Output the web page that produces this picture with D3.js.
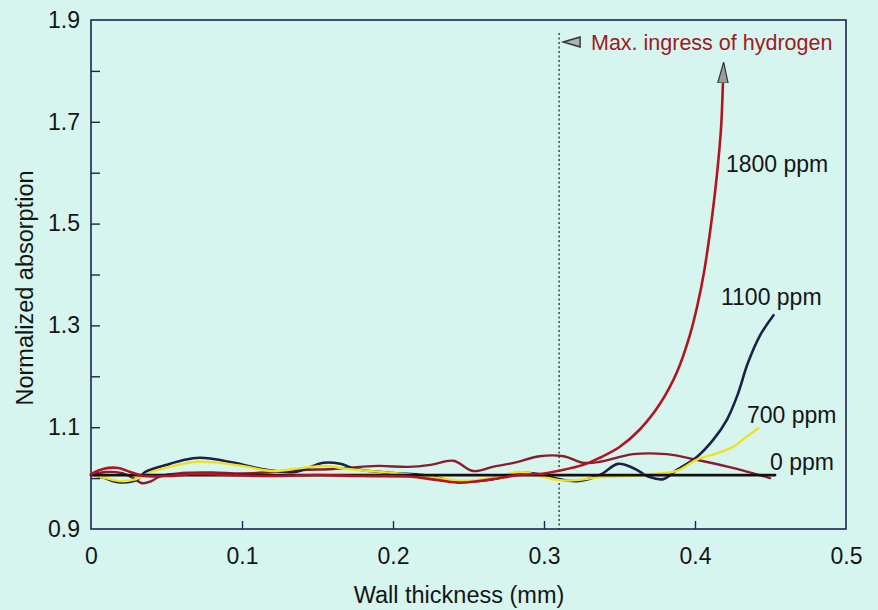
<!DOCTYPE html>
<html>
<head>
<meta charset="utf-8">
<script src="https://cdn.jsdelivr.net/npm/d3@7"></script>
<style>
  html, body { margin: 0; padding: 0; background: #d7f5ef; }
  svg { display: block; }
  text { font-family: "Liberation Sans", Arial, Helvetica, sans-serif; fill: #151515; }
</style>
</head>
<body>
<svg id="chart" width="878" height="610"></svg>
<script>
// ---- data (x: wall thickness in mm, y: normalized absorption) ----
const xTickValues = [0, 0.1, 0.2, 0.3, 0.4, 0.5];
const xTickLabels = ["0", "0.1", "0.2", "0.3", "0.4", "0.5"];
const yTickValues = [0.9, 1.0, 1.1, 1.2, 1.3, 1.4, 1.5, 1.6, 1.7, 1.8, 1.9];
const yTickLabels = ["0.9", "", "1.1", "", "1.3", "", "1.5", "", "1.7", "", "1.9"];

const baseline0 = [[0, 1.006], [0.453, 1.006]];

const series1800 = [
  [0, 1.008], [0.008, 1.018], [0.018, 1.020], [0.026, 1.012], [0.035, 1.004],
  [0.05, 1.004], [0.07, 1.008], [0.09, 1.006], [0.12, 1.004], [0.15, 1.006],
  [0.18, 1.004], [0.21, 1.003], [0.23, 0.996], [0.245, 0.991], [0.266, 0.998],
  [0.284, 1.006], [0.30, 1.009], [0.309, 1.014], [0.326, 1.026], [0.337, 1.040],
  [0.350, 1.061], [0.3636, 1.096], [0.3768, 1.146], [0.388, 1.208], [0.3967, 1.282],
  [0.402, 1.345], [0.4060, 1.405], [0.4099, 1.482], [0.4132, 1.560], [0.4155, 1.625],
  [0.4173, 1.690], [0.4185, 1.776]
];

const series1100 = [
  [0, 1.008], [0.009, 1.000], [0.018, 0.992], [0.03, 0.996], [0.036, 1.012],
  [0.05, 1.026], [0.062, 1.036], [0.072, 1.040], [0.08, 1.038], [0.095, 1.030],
  [0.117, 1.016], [0.135, 1.012], [0.154, 1.030], [0.165, 1.028], [0.175, 1.018],
  [0.2, 1.010], [0.22, 1.006], [0.244, 0.993], [0.266, 0.998], [0.284, 1.010],
  [0.30, 1.006], [0.31, 0.998], [0.322, 0.994], [0.337, 1.006], [0.349, 1.028],
  [0.359, 1.020], [0.370, 1.002], [0.379, 0.998], [0.388, 1.016], [0.401, 1.041],
  [0.412, 1.075], [0.421, 1.114], [0.428, 1.162], [0.435, 1.226], [0.443, 1.280],
  [0.452, 1.320]
];

const series700 = [
  [0, 1.008], [0.01, 1.000], [0.02, 0.994], [0.03, 0.998], [0.04, 1.012],
  [0.055, 1.024], [0.07, 1.032], [0.085, 1.030], [0.1, 1.024], [0.12, 1.014],
  [0.14, 1.020], [0.155, 1.024], [0.17, 1.018], [0.2, 1.010], [0.22, 1.004],
  [0.245, 0.995], [0.265, 1.000], [0.284, 1.012], [0.30, 1.002], [0.31, 0.996],
  [0.322, 0.996], [0.337, 1.002], [0.355, 1.004], [0.372, 1.008], [0.388, 1.014],
  [0.401, 1.036], [0.415, 1.049], [0.425, 1.061], [0.434, 1.081], [0.442, 1.098]
];

const seriesRef = [
  [0, 1.006], [0.01, 1.012], [0.02, 1.010], [0.028, 1.000], [0.034, 0.990],
  [0.04, 0.994], [0.046, 1.004], [0.06, 1.010], [0.08, 1.011], [0.1, 1.009],
  [0.12, 1.012], [0.14, 1.016], [0.16, 1.018], [0.19, 1.024], [0.21, 1.022],
  [0.225, 1.026], [0.24, 1.034], [0.253, 1.014], [0.266, 1.022], [0.28, 1.030],
  [0.297, 1.043], [0.313, 1.043], [0.326, 1.030], [0.337, 1.032], [0.359, 1.047],
  [0.381, 1.047], [0.401, 1.036], [0.425, 1.020], [0.4497, 1.000]
];

const ingressX = 0.31;
const ingressLabel = "Max. ingress of hydrogen";
const curveLabels = [
  { text: "1800 ppm", x: 0.4205, y: 1.601 },
  { text: "1100 ppm", x: 0.4172, y: 1.340 },
  { text: "700 ppm", x: 0.4344, y: 1.108 },
  { text: "0 ppm", x: 0.4497, y: 1.016 }
];

// ---- layout ----
const svg = d3.select("#chart");
const mLeft = 91, mRight = 846, mTop = 20, mBottom = 529;
const x = d3.scaleLinear().domain([0, 0.5]).range([mLeft, mRight]);
const y = d3.scaleLinear().domain([0.9, 1.9]).range([mBottom, mTop]);

// frame
svg.append("rect")
  .attr("x", mLeft).attr("y", mTop)
  .attr("width", mRight - mLeft).attr("height", mBottom - mTop)
  .attr("fill", "none").attr("stroke", "#1d2550").attr("stroke-width", 1.6);

// x axis
const xAxis = d3.axisBottom(x).tickValues(xTickValues)
  .tickFormat((d, i) => xTickLabels[i]).tickSize(-8).tickPadding(19);
const gx = svg.append("g").attr("transform", `translate(0,${mBottom})`).call(xAxis);
gx.select(".domain").remove();
gx.selectAll(".tick line").attr("stroke", "#1d2550").attr("stroke-width", 1.4)
  .filter(d => d === 0 || d === 0.5).remove();
gx.selectAll(".tick text").attr("font-size", 23).attr("fill", "#151515")
  .attr("font-family", "Liberation Sans, Arial, sans-serif");

// y axis
const yAxis = d3.axisLeft(y).tickValues(yTickValues)
  .tickFormat((d, i) => yTickLabels[i]).tickSize(-9).tickPadding(11);
const gy = svg.append("g").attr("transform", `translate(${mLeft},0)`).call(yAxis);
gy.select(".domain").remove();
gy.selectAll(".tick line").attr("stroke", "#1d2550").attr("stroke-width", 1.4)
  .filter(d => Math.abs(d - 0.9) < 1e-6 || Math.abs(d - 1.9) < 1e-6).remove();
gy.selectAll(".tick text").attr("font-size", 23).attr("fill", "#151515")
  .attr("font-family", "Liberation Sans, Arial, sans-serif");

// axis titles
svg.append("text").attr("x", 459).attr("y", 603).attr("text-anchor", "middle")
  .attr("font-size", 23.5).text("Wall thickness (mm)");
svg.append("text").attr("transform", "translate(33,288) rotate(-90)")
  .attr("text-anchor", "middle").attr("font-size", 23.5).text("Normalized absorption");

// vertical dotted line
svg.append("line")
  .attr("x1", x(ingressX)).attr("x2", x(ingressX))
  .attr("y1", 33).attr("y2", mBottom)
  .attr("stroke", "#2a2a2a").attr("stroke-width", 1.3).attr("stroke-dasharray", "2,2.5");

// small left-pointing triangle + label
const tx = x(ingressX) + 4, ty = 42;
svg.append("path")
  .attr("d", `M${tx},${ty} L${tx + 17},${ty - 5} L${tx + 17},${ty + 5} Z`)
  .attr("fill", "#a9b4b2").attr("stroke", "#333").attr("stroke-width", 1.4);
svg.append("text").attr("x", 591).attr("y", 50).attr("font-size", 21.5)
  .style("fill", "#9e1a22").text(ingressLabel);

// arrow marker
svg.append("defs").append("marker")
  .attr("id", "arrowUp").attr("markerUnits", "userSpaceOnUse")
  .attr("viewBox", "0 0 22 12").attr("refX", 0).attr("refY", 6)
  .attr("markerWidth", 22).attr("markerHeight", 12).attr("orient", "auto")
  .append("path").attr("d", "M0,0.8 L21,6 L0,11.2 Z")
  .attr("fill", "#9a9d9c").attr("stroke", "#333").attr("stroke-width", 1.2);

// lines
const line = d3.line().x(d => x(d[0])).y(d => y(d[1])).curve(d3.curveCatmullRom.alpha(0.5));

function drawLine(data, color, width, marker) {
  const p = svg.append("path").datum(data).attr("d", line)
    .attr("fill", "none").attr("stroke", color).attr("stroke-width", width)
    .attr("stroke-linejoin", "round").attr("stroke-linecap", "round");
  if (marker) p.attr("marker-end", marker);
  return p;
}

drawLine(seriesRef, "#8a1d2c", 2.4);
drawLine(series1100, "#1b2246", 2.6);
drawLine(series700, "#f1e21e", 2.4);
drawLine(baseline0, "#111111", 2.8);
drawLine(series1800, "#b3141f", 2.6, "url(#arrowUp)");

// curve labels
svg.selectAll("text.curve-label").data(curveLabels).enter().append("text")
  .attr("class", "curve-label")
  .attr("x", d => x(d.x)).attr("y", d => y(d.y))
  .attr("font-size", 23).text(d => d.text);
</script>
</body>
</html>
